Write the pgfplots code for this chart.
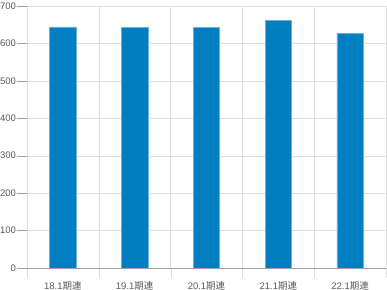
\documentclass[border=0pt]{standalone}
\usepackage{pgfplots}
\pgfplotsset{compat=1.18}
\usepackage{fontspec}
\setmainfont{Liberation Sans}
\newfontfamily\cjk{Noto Sans CJK JP}
\definecolor{barblue}{RGB}{0,126,194}
\definecolor{baredge}{RGB}{110,175,220}
\definecolor{gridc}{RGB}{222,222,222}
\definecolor{axc}{RGB}{160,160,160}
\definecolor{txt}{RGB}{90,90,90}
\begin{document}
\begin{tikzpicture}
\begin{axis}[
  name=ax,
  scale only axis,
  width=359pt, height=262pt,
  xmin=-0.5, xmax=4.5,
  ymin=0, ymax=700,
  axis lines=left,
  axis line style={-},
  x axis line style={draw=axc},
  y axis line style={draw=gridc},
  xtick={0,1,2,3,4},
  xticklabels={18.1{\cjk 期連},19.1{\cjk 期連},20.1{\cjk 期連},21.1{\cjk 期連},22.1{\cjk 期連}},
  minor xtick={-0.5,0.5,1.5,2.5,3.5,4.5},
  major x tick style={draw=none},
  minor x tick style={draw=gridc},
  minor tick length=10pt,
  xminorgrids=true,
  minor x grid style={draw=gridc},
  ytick={0,100,...,700},
  ymajorgrids=true,
  major y grid style={draw=gridc},
  major y tick style={draw=axc},
  major tick length=10pt,
  tick align=outside,
  tick pos=left,
  ticklabel style={font=\fontsize{9.5}{11}\selectfont, text=txt},
  yticklabel style={xshift=2.5pt},
  xticklabel style={yshift=0pt},
  /pgf/number format/assume math mode=true,
  /pgf/number format/1000 sep={},
]
\addplot[ybar, bar width=26.5pt, fill=barblue, draw=baredge, line width=0.6pt]
  coordinates {(0,644) (1,642) (2,642) (3,661) (4,627)};
\end{axis}
\pgfresetboundingbox
\path ([xshift=-27pt,yshift=-22pt]ax.south west) rectangle ([xshift=1pt,yshift=6pt]ax.north east);
\end{tikzpicture}
\end{document}
